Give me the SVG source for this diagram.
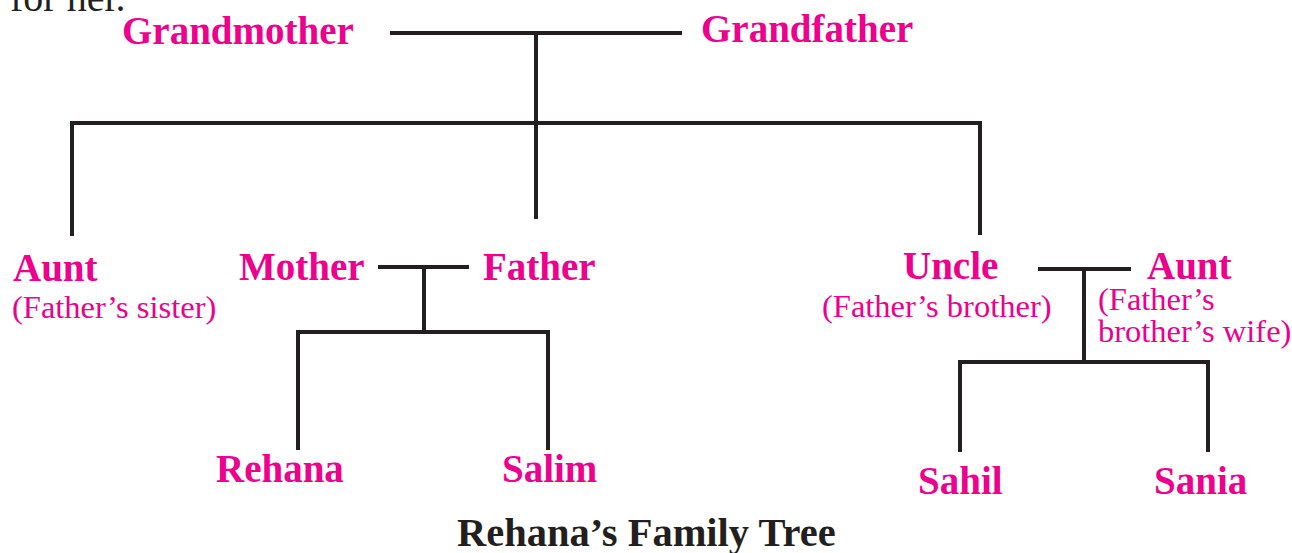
<svg xmlns="http://www.w3.org/2000/svg" width="1292" height="553" viewBox="0 0 1292 553">
<style>
.n{font-family:"Liberation Serif","Times New Roman",serif;font-weight:bold;font-size:39px;fill:#ec008c}
.s{font-family:"Liberation Serif","Times New Roman",serif;font-size:32.5px;fill:#ec008c}
.t{font-family:"Liberation Serif","Times New Roman",serif;font-weight:bold;font-size:40.5px;fill:#231f20}
.c line{stroke:#231f20;stroke-width:4;fill:none}
</style>
<rect width="1292" height="553" fill="#ffffff"/>
<text x="10" y="11" font-family="Liberation Serif, serif" font-size="40" fill="#231f20">for her.</text>
<g class="c" id="connectors">
<line x1="390" y1="33" x2="682" y2="33"/>
<line x1="536" y1="33" x2="536" y2="122"/>
<line x1="70" y1="123" x2="982" y2="123"/>
<line x1="72" y1="121" x2="72" y2="236"/>
<line x1="536" y1="121" x2="536" y2="219"/>
<line x1="980" y1="121" x2="980" y2="235"/>
<line x1="378" y1="267" x2="469" y2="267"/>
<line x1="424" y1="267" x2="424" y2="332"/>
<line x1="296" y1="332" x2="550" y2="332"/>
<line x1="298" y1="330" x2="298" y2="450"/>
<line x1="548" y1="330" x2="548" y2="450"/>
<line x1="1038" y1="269" x2="1131" y2="269"/>
<line x1="1084" y1="269" x2="1084" y2="362"/>
<line x1="958" y1="362" x2="1210" y2="362"/>
<line x1="960" y1="360" x2="960" y2="452"/>
<line x1="1208" y1="360" x2="1208" y2="452"/>
</g>
<g id="grandmother"><text class="n" x="122" y="44">Grandmother</text></g>
<g id="grandfather"><text class="n" x="701" y="42">Grandfather</text></g>
<g id="aunt1"><text class="n" x="13" y="281">Aunt</text><text class="s" x="12" y="318">(Father’s sister)</text></g>
<g id="mother"><text class="n" x="239" y="280">Mother</text></g>
<g id="father"><text class="n" x="483" y="280">Father</text></g>
<g id="uncle"><text class="n" x="903" y="279">Uncle</text><text class="s" x="822" y="317">(Father’s brother)</text></g>
<g id="aunt2"><text class="n" x="1147" y="279">Aunt</text><text class="s" x="1098" y="310">(Father’s</text><text class="s" x="1098" y="342">brother’s wife)</text></g>
<g id="rehana"><text class="n" x="216" y="482">Rehana</text></g>
<g id="salim"><text class="n" x="502" y="482">Salim</text></g>
<g id="sahil"><text class="n" x="918" y="494">Sahil</text></g>
<g id="sania"><text class="n" x="1154" y="494">Sania</text></g>
<g id="title"><text class="t" x="457" y="546">Rehana’s Family Tree</text></g>
</svg>
